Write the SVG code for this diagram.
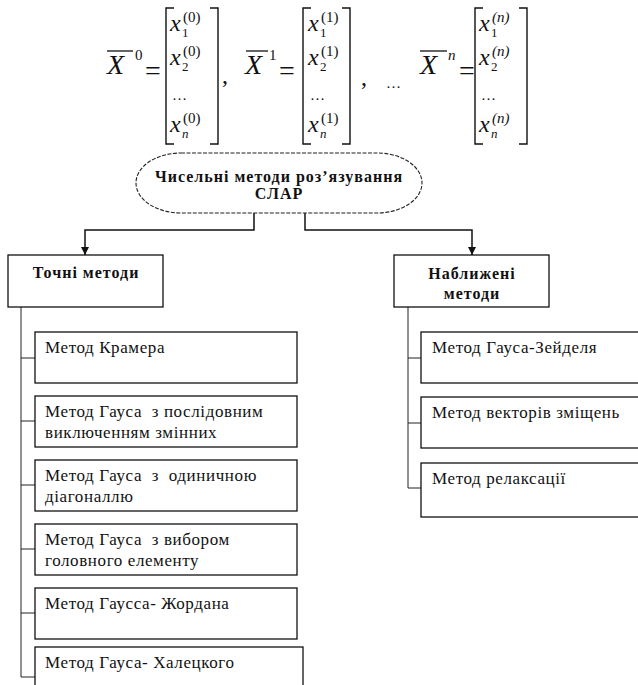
<svg xmlns="http://www.w3.org/2000/svg" width="638" height="685" viewBox="0 0 638 685">
  <style>
    .bg { fill: #ffffff; }
    .box { fill: #ffffff; stroke: #111; stroke-width: 1.3; }
    .oval { fill: #ffffff; stroke: #222; stroke-width: 1.1; stroke-dasharray: 4 1.5; }
    .wire { fill: none; stroke: #111; stroke-width: 1.5; }
    .tree { fill: none; stroke: #222; stroke-width: 1; }
    .brk { fill: none; stroke: #111; stroke-width: 1.4; }
    .bar { stroke: #111; stroke-width: 1.3; }
    .lbl { font-family: "Liberation Serif", "DejaVu Serif", serif; font-size: 17px; letter-spacing: 0.6px; fill: #111; }
    .hdr { font-family: "Liberation Serif", "DejaVu Serif", serif; font-size: 16px; font-weight: bold; letter-spacing: 1px; fill: #111; text-anchor: middle; }
    .mi { font-family: "Liberation Serif", "DejaVu Serif", serif; font-style: italic; fill: #111; }
    .mr { font-family: "Liberation Serif", "DejaVu Serif", serif; fill: #111; }
    .big { font-size: 28px; }
    .row { font-size: 24px; }
    .sub { font-size: 13px; }
    .sup { font-size: 15px; }
  </style>
  <defs>
    <marker id="arrow" viewBox="0 0 10 10" refX="10" refY="5" markerWidth="8" markerHeight="9" markerUnits="userSpaceOnUse" orient="auto">
      <path d="M0,0 L10,5 L0,10 Z" fill="#111"/>
    </marker>
  </defs>

  <rect class="bg" x="0" y="0" width="638" height="685"/>

  <!-- Iteration vectors X^0, X^1 ... X^n -->
  <g id="formula">
    <!-- X^0 = [...] -->
    <line class="bar" x1="107" y1="51" x2="133" y2="51"/>
    <text class="mi big" x="107" y="74">X</text>
    <text class="mr sup" x="135" y="60">0</text>
    <text class="mr big" x="145" y="80">=</text>
    <path class="brk" d="M174,8 H166 V144 H174"/>
    <path class="brk" d="M210,8 H218 V144 H210"/>
    <text class="mi row" x="170" y="31">x</text><text class="mr sub" x="182" y="37">1</text><text class="mr sup" x="183" y="22">(0)</text>
    <text class="mi row" x="170" y="65">x</text><text class="mr sub" x="182" y="71">2</text><text class="mr sup" x="183" y="56">(0)</text>
    <text class="mr sup" x="172" y="100">…</text>
    <text class="mi row" x="170" y="132">x</text><text class="mi sub" x="182" y="138">n</text><text class="mr sup" x="183" y="123">(0)</text>
    <text class="mr row" x="222" y="83">,</text>

    <!-- X^1 = [...] -->
    <line class="bar" x1="246" y1="51" x2="268" y2="51"/>
    <text class="mi big" x="245" y="74">X</text>
    <text class="mr sup" x="269" y="60">1</text>
    <text class="mr big" x="279" y="80">=</text>
    <path class="brk" d="M311,8 H303 V144 H311"/>
    <path class="brk" d="M342,8 H350 V144 H342"/>
    <text class="mi row" x="308" y="31">x</text><text class="mr sub" x="320" y="37">1</text><text class="mr sup" x="321" y="22">(1)</text>
    <text class="mi row" x="308" y="65">x</text><text class="mr sub" x="320" y="71">2</text><text class="mr sup" x="321" y="56">(1)</text>
    <text class="mr sup" x="310" y="100">…</text>
    <text class="mi row" x="308" y="132">x</text><text class="mi sub" x="320" y="138">n</text><text class="mr sup" x="321" y="123">(1)</text>
    <text class="mr row" x="361" y="85">,</text>
    <text class="mr sup" x="386" y="88">…</text>

    <!-- X^n = [...] -->
    <line class="bar" x1="420" y1="51" x2="447" y2="51"/>
    <text class="mi big" x="420" y="74">X</text>
    <text class="mi sup" x="448" y="60">n</text>
    <text class="mr big" x="459" y="80">=</text>
    <path class="brk" d="M483,8 H475 V144 H483"/>
    <path class="brk" d="M519,8 H527 V144 H519"/>
    <text class="mi row" x="479" y="31">x</text><text class="mr sub" x="491" y="37">1</text><text class="mi sup" x="492" y="22">(n)</text>
    <text class="mi row" x="479" y="65">x</text><text class="mr sub" x="491" y="71">2</text><text class="mi sup" x="492" y="56">(n)</text>
    <text class="mr sup" x="481" y="100">…</text>
    <text class="mi row" x="479" y="132">x</text><text class="mi sub" x="491" y="138">n</text><text class="mi sup" x="492" y="123">(n)</text>
  </g>

  <!-- Connectors -->
  <g id="connectors">
    <path class="wire" d="M254,213 V230 H85 V255" marker-end="url(#arrow)"/>
    <path class="wire" d="M305,213 V230 H472 V255" marker-end="url(#arrow)"/>
    <!-- exact methods list -->
    <path class="tree" d="M21,307 V677"/>
    <path class="tree" d="M21,358 H35 M21,421 H35 M21,485 H35 M21,549 H35 M21,613 H35 M21,677 H35"/>
    <!-- approximate methods list -->
    <path class="tree" d="M408,307 V488"/>
    <path class="tree" d="M408,358 H421 M408,423 H421 M408,488 H421"/>
  </g>

  <!-- Root -->
  <g id="root">
    <rect class="oval" x="136" y="153" width="286" height="60" rx="45" ry="30"/>
    <text class="hdr" x="279" y="182" letter-spacing="0.8">Чисельні методи роз’язування</text>
    <text class="hdr" x="279" y="199">СЛАР</text>
  </g>

  <!-- Category nodes -->
  <g id="exact">
    <rect class="box" x="8" y="255" width="155" height="52"/>
    <text class="hdr" x="86" y="278">Точні методи</text>
  </g>
  <g id="approx">
    <rect class="box" x="394" y="255" width="155" height="52"/>
    <text class="hdr" x="472" y="279">Наближені</text>
    <text class="hdr" x="472" y="299">методи</text>
  </g>

  <!-- Exact methods -->
  <g id="cramer">
    <rect class="box" x="35" y="332" width="262" height="51"/>
    <text class="lbl" x="45" y="353">Метод Крамера</text>
  </g>
  <g id="gauss-elim">
    <rect class="box" x="35" y="396" width="262" height="51"/>
    <text class="lbl" x="45" y="417" xml:space="preserve">Метод Гауса  з послідовним</text>
    <text class="lbl" x="45" y="438">виключенням змінних</text>
  </g>
  <g id="gauss-unit">
    <rect class="box" x="35" y="460" width="262" height="51"/>
    <text class="lbl" x="45" y="481" xml:space="preserve">Метод Гауса  з  одиничною</text>
    <text class="lbl" x="45" y="502">діагоналлю</text>
  </g>
  <g id="gauss-pivot">
    <rect class="box" x="35" y="524" width="262" height="51"/>
    <text class="lbl" x="45" y="545" xml:space="preserve">Метод Гауса  з вибором</text>
    <text class="lbl" x="45" y="566">головного елементу</text>
  </g>
  <g id="gauss-jordan">
    <rect class="box" x="35" y="588" width="262" height="51"/>
    <text class="lbl" x="45" y="609">Метод Гаусса- Жордана</text>
  </g>
  <g id="cholesky">
    <rect class="box" x="35" y="647" width="268" height="52"/>
    <text class="lbl" x="45" y="668">Метод Гауса- Халецкого</text>
  </g>

  <!-- Approximate methods -->
  <g id="seidel">
    <rect class="box" x="421" y="332" width="230" height="51"/>
    <text class="lbl" x="432" y="353">Метод Гауса-Зейделя</text>
  </g>
  <g id="shift-vectors">
    <rect class="box" x="421" y="397" width="230" height="51"/>
    <text class="lbl" x="432" y="418">Метод векторів зміщень</text>
  </g>
  <g id="relaxation">
    <rect class="box" x="421" y="463" width="230" height="54"/>
    <text class="lbl" x="432" y="484">Метод релаксації</text>
  </g>
</svg>
